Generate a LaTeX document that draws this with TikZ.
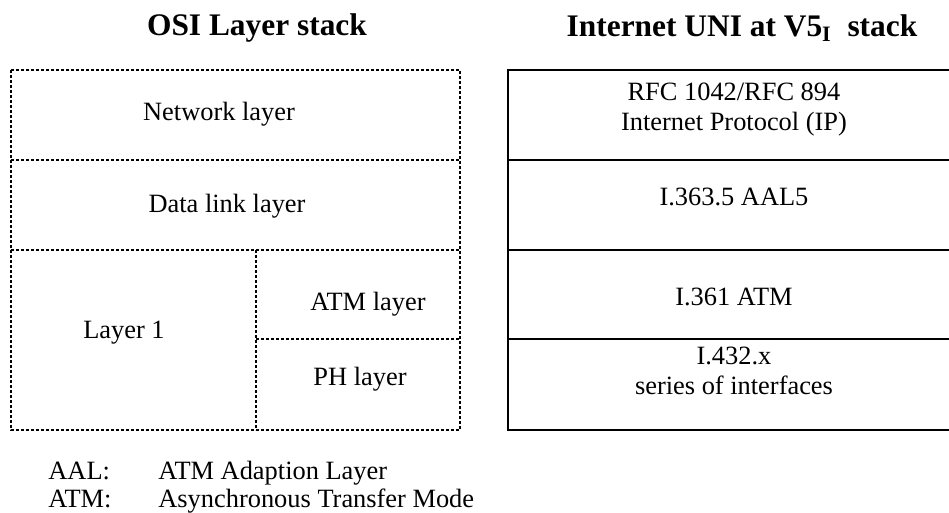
\documentclass[tikz,border=0pt]{standalone}
\usepackage{fontspec}
\setmainfont{Liberation Serif}
\usetikzlibrary{positioning}

\begin{document}
\begin{tikzpicture}[
        x=0.5pt, y=-0.5pt,
        osiline/.style={
            dash pattern=on 1.4pt off 1.1pt,
            line width=1pt
        },
        uniline/.style={
            line width=1.1pt
        },
        heading/.style={
            font=\fontsize{15.7}{18}\selectfont\bfseries,
            inner sep=0pt
        },
        cell/.style={
            font=\fontsize{13.2}{15}\selectfont,
            align=center,
            inner sep=0pt
        },
        legend/.style={
            font=\fontsize{13.2}{15}\selectfont,
            anchor=base west,
            inner sep=0pt
        }
    ]

    \useasboundingbox (0,0) rectangle (949,513);

    % headings
    \node[heading] (osititle) at (257,28) {OSI Layer stack};
    \node[heading] (unititle) at (742,28) {Internet UNI at V5\textsubscript{I}\ \ stack};

    % OSI layer stack
    \draw[osiline] (11,70) rectangle (460,430);
    \draw[osiline] (11,160) -- (460,160);
    \draw[osiline] (11,250) -- (460,250);
    \draw[osiline] (256,250) -- (256,430);
    \draw[osiline] (256,339) -- (460,339);

    \node[cell] (network) at (219,114) {Network layer};
    \node[cell] (datalink) at (227,206) {Data link layer};
    \node[cell] (layerone) at (124,333) {Layer 1};
    \node[cell] (atmlayer) at (368,304) {ATM layer};
    \node[cell] (phlayer) at (360,379) {PH layer};

    % Internet UNI stack
    \draw[uniline] (508,70) rectangle (962,430);
    \draw[uniline] (508,160) -- (962,160);
    \draw[uniline] (508,250) -- (962,250);
    \draw[uniline] (508,339) -- (962,339);

    \node[cell] (ip) at (734,110) {RFC 1042/RFC 894\\Internet Protocol (IP)};
    \node[cell] (aal) at (734,197) {I.363.5 AAL5};
    \node[cell] (atm) at (734,297) {I.361 ATM};
    \node[cell] (phy) at (734,371) {I.432.x\\series of interfaces};

    % abbreviations
    \node[legend] (aalkey) at (48,480) {AAL:};
    \node[legend] (aaltext) at (158,480) {ATM Adaption Layer};
    \node[legend] (atmkey) at (48,508) {ATM:};
    \node[legend] (atmtext) at (158,508) {Asynchronous Transfer Mode};

\end{tikzpicture}
\end{document}
